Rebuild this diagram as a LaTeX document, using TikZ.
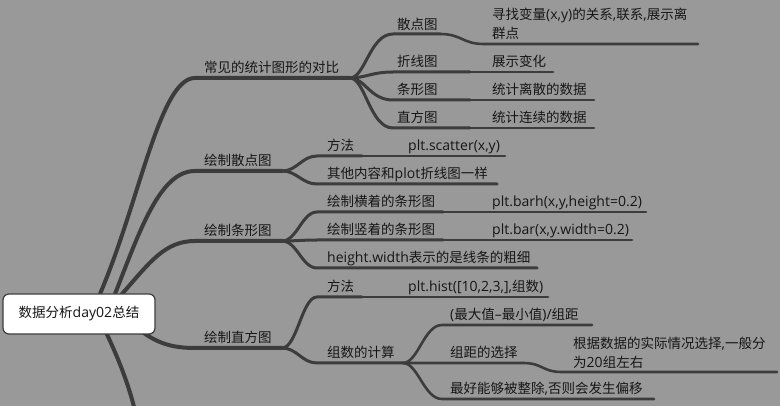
\documentclass[tikz,border=0pt]{standalone}
\usepackage{fontspec}
\setmainfont{Open Sans}[Scale=1.04]
\newfontfamily\cjkfont{Noto Sans CJK SC}
\newfontfamily\latfont{Open Sans}[Scale=1.04]
\XeTeXinterchartokenstate=1
\newXeTeXintercharclass\cjkcls
\count255="3000
\loop\XeTeXcharclass\count255=\cjkcls\advance\count255 by 1 \ifnum\count255<"A000 \repeat
\count255="FF00
\loop\XeTeXcharclass\count255=\cjkcls\advance\count255 by 1 \ifnum\count255<"FFF0 \repeat
\XeTeXinterchartoks 0 \cjkcls = {\cjkfont}
\XeTeXinterchartoks 4095 \cjkcls = {\cjkfont}
\XeTeXinterchartoks \cjkcls 0 = {\latfont}
\definecolor{bg}{HTML}{999999}
\definecolor{lc}{HTML}{3C3C3C}
\definecolor{tc}{HTML}{161616}
\tikzset{
  lone/.style={draw=lc, line width=4pt, line cap=round},
  ltwo/.style={draw=lc, line width=3pt, line cap=round},
  lthree/.style={draw=lc, line width=2.6pt, line cap=round},
  txt/.style={anchor=base west, inner sep=0pt, text=tc, font=\fontsize{13.5}{19}\selectfont, align=left},
  rootbox/.style={draw=lc, line width=1.2pt, fill=white, rounded corners=6pt, minimum width=152pt, minimum height=40pt, inner sep=0pt, text=tc, font=\fontsize{13.5}{16}\selectfont},
}
\begin{document}
\begin{tikzpicture}[x=1pt, y=-1pt]
\fill[bg] (0,0) rectangle (780,406);
\useasboundingbox (0,0) rectangle (780,406);
\clip (0,0) rectangle (780,406);
% fork / anchor coordinates
\coordinate (s1) at (100,294); \coordinate (e1) at (195,78);  \coordinate (f1) at (350,78);
\coordinate (s2) at (115,294); \coordinate (e2) at (195,171); \coordinate (f2) at (282,171);
\coordinate (s3) at (122,294); \coordinate (e3) at (195,241); \coordinate (f3) at (282,241);
\coordinate (s4) at (125,318); \coordinate (e4) at (195,348); \coordinate (f4) at (282,348);
\coordinate (s5) at (100,320); \coordinate (e5) at (137,420);
% level 1 connectors
\draw[lone] (s1) .. controls (140,200) and (160,78) .. (e1) -- (f1);
\draw[lone] (s2) .. controls (140,230) and (160,171) .. (e2) -- (f2);
\draw[lone] (s3) .. controls (150,262) and (165,241) .. (e3) -- (f3);
\draw[lone] (s4) .. controls (150,340) and (165,348) .. (e4) -- (f4);
\draw[lone] (s5) .. controls (115,350) and (130,385) .. (e5);
% level 2 under f1
\coordinate (a1) at (393,34); \coordinate (a1b) at (440,34); \coordinate (a1c) at (484,44); \coordinate (a1d) at (698,44);
\coordinate (a2) at (393,72); \coordinate (a2b) at (470,72); \coordinate (a2d) at (553,72);
\coordinate (a3) at (393,100); \coordinate (a3b) at (470,100); \coordinate (a3d) at (594,100);
\coordinate (a4) at (393,128); \coordinate (a4b) at (470,128); \coordinate (a4d) at (594,128);
\draw[ltwo] (f1) .. controls (365,78) and (370,34) .. (a1) -- (a1b);
\draw[lthree] (a1b) .. controls (462,34) and (462,44) .. (a1c) -- (a1d);
\draw[ltwo] (f1) .. controls (365,78) and (372,72) .. (a2) -- (a2b);
\draw[lthree] (a2b) -- (a2d);
\draw[ltwo] (f1) .. controls (365,78) and (370,100) .. (a3) -- (a3b);
\draw[lthree] (a3b) -- (a3d);
\draw[ltwo] (f1) .. controls (365,78) and (370,128) .. (a4) -- (a4b);
\draw[lthree] (a4b) -- (a4d);
% level 2 under f2
\coordinate (b1) at (317,156); \coordinate (b1b) at (362,156); \coordinate (b1d) at (505,156);
\coordinate (b2) at (317,184); \coordinate (b2d) at (497,184);
\draw[ltwo] (f2) .. controls (297,171) and (302,156) .. (b1) -- (b1b);
\draw[lthree] (b1b) -- (b1d);
\draw[ltwo] (f2) .. controls (297,171) and (302,184) .. (b2) -- (b2d);
% level 2 under f3
\coordinate (c1) at (317,212); \coordinate (c1b) at (443,212); \coordinate (c1d) at (646,212);
\coordinate (c2) at (317,240); \coordinate (c2b) at (443,240); \coordinate (c2d) at (632,240);
\coordinate (c3) at (317,268); \coordinate (c3d) at (537,268);
\draw[ltwo] (f3) .. controls (297,241) and (302,212) .. (c1) -- (c1b);
\draw[lthree] (c1b) -- (c1d);
\draw[ltwo] (f3) .. controls (297,241) and (302,240) .. (c2) -- (c2b);
\draw[lthree] (c2b) -- (c2d);
\draw[ltwo] (f3) .. controls (297,241) and (302,268) .. (c3) -- (c3d);
% level 2 under f4
\coordinate (d1) at (317,297); \coordinate (d1b) at (362,297); \coordinate (d1d) at (548,297);
\coordinate (d2) at (317,363); \coordinate (f5) at (403,363);
\draw[ltwo] (f4) .. controls (297,348) and (302,297) .. (d1) -- (d1b);
\draw[lthree] (d1b) -- (d1d);
\draw[ltwo] (f4) .. controls (297,348) and (302,363) .. (d2) -- (f5);
% level 3 under f5
\coordinate (g1) at (442,325); \coordinate (g1d) at (592,325);
\coordinate (g2) at (442,363); \coordinate (g2b) at (523,363); \coordinate (g2c) at (562,372); \coordinate (g2d) at (777,372);
\coordinate (g3) at (442,399); \coordinate (g3d) at (654,399);
\draw[lthree] (f5) .. controls (418,363) and (424,325) .. (g1) -- (g1d);
\draw[lthree] (f5) -- (g2) -- (g2b) .. controls (543,363) and (542,372) .. (g2c) -- (g2d);
\draw[lthree] (f5) .. controls (418,363) and (424,399) .. (g3) -- (g3d);
% root
\node[rootbox] (root) at (79,314) {数据分析day02总结};
% texts
\node[txt] (t1) at (204,73) {常见的统计图形的对比};
\node[txt] (t2) at (204,166) {绘制散点图};
\node[txt] (t3) at (204,236) {绘制条形图};
\node[txt] (t4) at (204,343) {绘制直方图};
\node[txt] (t11) at (397,30) {散点图};
\node[txt] (t11a) at (492,39) {寻找变量(x,y)的关系,联系,展示离\\群点};
\node[txt] (t12) at (397,67) {折线图};
\node[txt] (t12a) at (492,67) {展示变化};
\node[txt] (t13) at (397,95) {条形图};
\node[txt] (t13a) at (492,95) {统计离散的数据};
\node[txt] (t14) at (397,123) {直方图};
\node[txt] (t14a) at (492,123) {统计连续的数据};
\node[txt] (t21) at (327,151) {方法};
\node[txt] (t21a) at (408,151) {plt.scatter(x,y)};
\node[txt] (t22) at (327,179) {其他内容和plot折线图一样};
\node[txt] (t31) at (327,207) {绘制横着的条形图};
\node[txt] (t31a) at (492,207) {plt.barh(x,y,height=0.2)};
\node[txt] (t32) at (327,235) {绘制竖着的条形图};
\node[txt] (t32a) at (492,235) {plt.bar(x,y.width=0.2)};
\node[txt] (t33) at (327,263) {height.width表示的是线条的粗细};
\node[txt] (t41) at (327,292) {方法};
\node[txt] (t41a) at (408,292) {plt.hist([10,2,3,],组数)};
\node[txt] (t42) at (327,358) {组数的计算};
\node[txt] (t51) at (450,320) {(最大值–最小值)/组距};
\node[txt] (t52) at (450,358) {组距的选择};
\node[txt] (t52a) at (573,367) {根据数据的实际情况选择,一般分\\为20组左右};
\node[txt] (t53) at (450,394) {最好能够被整除,否则会发生偏移};
\end{tikzpicture}
\end{document}
